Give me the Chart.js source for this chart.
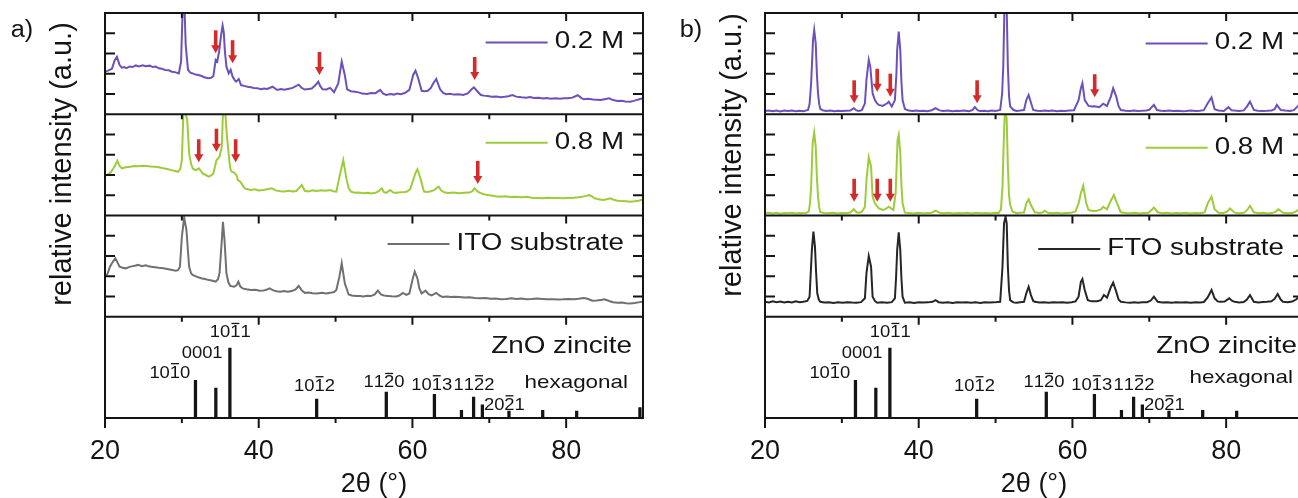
<!DOCTYPE html>
<html><head><meta charset="utf-8">
<script src="https://cdn.jsdelivr.net/npm/chart.js@4.4.1/dist/chart.umd.min.js"></script>
<style>
html,body{margin:0;padding:0;background:#fff;overflow:hidden;width:1298px;height:498px;}
#wrap{position:relative;width:1298px;height:498px;overflow:hidden;background:#fff;}
canvas{position:absolute;top:0;}
</style></head><body>
<div id="wrap">
<canvas id="ca" width="660" height="498" style="left:0px"></canvas>
<canvas id="cb" width="660" height="498" style="left:660px"></canvas>
</div>
<script>
// ---------- data: 2theta (deg) , relative intensity (subplot units 0..5) ----------
const A_02M = [[20.0,2.10],[20.3,2.14],[20.6,2.19],[20.9,2.24],[21.25,2.66],[21.55,2.84],[21.9,2.43],[22.2,2.30],[22.5,2.33],[22.8,2.28],[23.2,2.36],[23.6,2.33],[24.0,2.41],[24.4,2.36],[24.9,2.42],[25.3,2.37],[25.8,2.40],[26.2,2.33],[26.6,2.36],[27.0,2.27],[27.4,2.25],[27.8,2.19],[28.3,2.17],[28.7,2.10],[29.1,2.08],[29.6,2.02],[29.9,2.6],[30.1,5.2],[30.35,5.2],[30.5,3.42],[30.8,2.19],[31.1,2.05],[31.4,2.02],[31.8,1.96],[32.15,1.94],[32.5,1.90],[32.9,1.83],[33.4,1.78],[33.8,1.80],[34.1,1.88],[34.4,2.68],[34.6,2.60],[34.85,3.10],[35.1,3.90],[35.3,4.38],[35.45,4.05],[35.6,3.10],[35.8,2.35],[36.1,2.02],[36.35,2.19],[36.6,1.86],[36.85,1.70],[37.06,1.61],[37.4,1.74],[37.7,1.44],[38.1,1.40],[38.56,1.36],[39.0,1.33],[39.4,1.29],[39.85,1.28],[40.3,1.24],[40.7,1.27],[41.1,1.25],[41.8,1.36],[42.4,1.20],[42.9,1.24],[43.3,1.21],[43.8,1.25],[44.4,1.30],[45.2,1.46],[45.6,1.30],[46.0,1.22],[46.5,1.25],[46.9,1.27],[47.4,1.44],[47.75,1.61],[48.0,1.40],[48.3,1.23],[48.8,1.22],[49.3,1.30],[49.8,1.09],[50.35,1.52],[50.8,2.60],[51.2,1.94],[51.5,1.23],[52.0,1.14],[52.5,1.11],[53.0,1.08],[53.5,1.02],[54.1,1.00],[54.6,1.05],[55.2,1.04],[55.8,1.20],[56.2,1.02],[56.6,0.95],[57.1,1.00],[57.6,0.97],[58.0,1.02],[58.5,0.99],[59.0,1.05],[59.6,1.20],[60.1,1.94],[60.4,2.15],[60.75,1.78],[61.2,1.16],[61.6,1.14],[62.0,1.16],[62.4,1.30],[62.7,1.52],[63.1,1.74],[63.6,1.23],[64.0,1.05],[64.4,0.99],[64.9,1.01],[65.4,0.97],[66.1,0.99],[66.6,0.95],[67.2,1.03],[67.7,1.23],[68.0,1.33],[68.5,1.11],[68.9,0.95],[69.3,0.92],[69.8,0.90],[70.3,0.86],[70.9,0.88],[71.5,0.84],[72.0,0.86],[72.5,0.89],[73.0,0.95],[73.5,0.87],[74.2,0.84],[74.8,0.82],[75.3,0.85],[75.8,0.80],[76.4,0.82],[77.0,0.78],[77.5,0.80],[78.0,0.77],[78.6,0.79],[79.2,0.76],[79.7,0.79],[80.2,0.79],[80.8,0.82],[81.5,0.94],[82.0,0.80],[82.3,0.74],[82.9,0.76],[83.5,0.73],[84.0,0.72],[84.5,0.70],[85.0,0.74],[85.6,0.79],[86.1,0.70],[86.7,0.66],[87.2,0.67],[87.7,0.63],[88.3,0.62],[88.8,0.66],[89.3,0.72],[90.0,0.79]];
const A_08M = [[20.0,1.98],[20.3,2.00],[20.8,2.16],[21.3,2.45],[21.6,2.71],[21.9,2.45],[22.2,2.33],[22.7,2.38],[23.3,2.41],[23.8,2.44],[24.3,2.43],[24.9,2.46],[25.4,2.44],[26.0,2.42],[26.5,2.41],[27.0,2.38],[27.6,2.33],[28.1,2.30],[28.6,2.24],[29.1,2.20],[29.5,2.16],[29.8,2.30],[30.0,2.74],[30.2,5.1],[30.45,5.1],[30.7,4.72],[30.95,3.07],[31.2,2.55],[31.4,2.33],[31.7,2.25],[31.9,2.25],[32.2,2.33],[32.45,2.22],[32.7,2.08],[33.1,2.00],[33.5,1.92],[33.8,1.98],[34.1,2.08],[34.5,2.73],[34.9,2.90],[35.2,3.40],[35.35,5.1],[35.65,5.1],[35.85,4.0],[36.0,3.40],[36.2,2.60],[36.35,2.25],[36.5,2.16],[36.8,2.12],[37.1,2.00],[37.3,1.75],[37.6,1.67],[37.9,1.50],[38.2,1.34],[38.6,1.30],[39.0,1.26],[39.5,1.29],[40.0,1.24],[40.6,1.26],[41.1,1.30],[41.7,1.34],[42.2,1.24],[42.8,1.20],[43.3,1.18],[43.9,1.22],[44.4,1.19],[44.9,1.21],[45.6,1.51],[46.0,1.22],[46.5,1.19],[47.0,1.24],[47.6,1.21],[48.1,1.25],[48.7,1.22],[49.3,1.26],[49.7,1.20],[50.1,1.18],[50.6,2.08],[51.0,2.74],[51.4,1.84],[51.7,1.35],[52.0,1.18],[52.5,1.12],[53.0,1.14],[53.6,1.10],[54.2,1.12],[54.7,1.09],[55.2,1.12],[55.6,1.20],[56.0,1.34],[56.3,1.15],[56.6,1.12],[57.1,1.26],[57.5,1.13],[57.9,1.12],[58.5,1.15],[59.0,1.16],[59.3,1.18],[59.7,1.30],[60.1,1.75],[60.4,2.10],[60.65,2.28],[60.9,2.0],[61.1,1.75],[61.5,1.18],[61.9,1.16],[62.3,1.18],[62.8,1.25],[63.4,1.42],[63.8,1.22],[64.2,1.13],[64.7,1.11],[65.3,1.13],[66.1,1.10],[66.7,1.12],[67.4,1.13],[67.8,1.20],[68.1,1.34],[68.5,1.18],[69.1,1.07],[69.6,1.02],[70.2,0.99],[70.8,0.95],[71.5,0.93],[72.1,0.95],[72.8,0.91],[73.5,0.92],[74.2,0.90],[74.9,0.92],[75.5,0.88],[76.2,0.87],[76.9,0.85],[77.6,0.88],[78.3,0.86],[79.0,0.87],[79.6,0.85],[80.3,0.87],[81.0,0.88],[81.6,0.90],[82.1,0.93],[82.6,0.97],[83.0,1.01],[83.4,0.93],[83.7,0.85],[84.2,0.80],[84.8,0.77],[85.3,0.80],[85.7,0.85],[86.2,0.78],[86.7,0.73],[87.3,0.71],[87.8,0.70],[88.3,0.68],[88.9,0.70],[89.4,0.73],[90.0,0.79]];
const A_ITO = [[20.0,2.00],[20.3,2.10],[20.65,2.47],[21.0,2.70],[21.35,2.89],[21.6,2.70],[21.9,2.47],[22.3,2.42],[22.7,2.39],[23.1,2.45],[23.6,2.50],[24.0,2.53],[24.3,2.56],[24.8,2.50],[25.3,2.54],[25.7,2.49],[26.0,2.47],[26.5,2.45],[27.0,2.42],[27.6,2.39],[28.1,2.36],[28.6,2.32],[29.2,2.27],[29.5,2.30],[29.75,2.47],[30.0,3.95],[30.3,4.9],[30.6,4.28],[30.8,3.20],[30.95,2.47],[31.2,2.15],[31.4,2.06],[31.9,1.98],[32.5,1.90],[33.0,1.86],[33.55,1.81],[34.0,1.78],[34.4,1.73],[34.7,1.85],[34.9,2.15],[35.2,3.79],[35.35,4.69],[35.55,3.79],[35.8,2.15],[36.05,1.70],[36.3,1.52],[36.8,1.48],[37.1,1.55],[37.35,1.73],[37.6,1.50],[37.9,1.40],[38.4,1.36],[39.0,1.32],[39.6,1.33],[40.1,1.28],[40.6,1.29],[41.0,1.33],[41.4,1.40],[41.9,1.30],[42.3,1.26],[42.8,1.23],[43.3,1.27],[43.8,1.24],[44.4,1.28],[44.8,1.35],[45.2,1.52],[45.6,1.30],[46.0,1.18],[46.5,1.20],[47.0,1.16],[47.6,1.15],[48.2,1.18],[48.8,1.15],[49.3,1.18],[49.8,1.22],[50.1,1.32],[50.5,1.98],[50.8,2.64],[51.2,1.65],[51.7,1.10],[52.1,1.05],[52.7,1.03],[53.2,1.02],[53.6,1.00],[54.1,1.04],[54.6,1.02],[55.1,1.10],[55.5,1.29],[55.9,1.10],[56.3,1.05],[56.8,1.03],[57.3,1.01],[57.9,1.00],[58.3,1.05],[58.75,1.18],[59.2,1.08],[59.6,1.15],[60.0,1.81],[60.3,2.23],[60.65,1.90],[60.9,1.40],[61.2,1.15],[61.7,1.29],[62.1,1.12],[62.5,1.05],[63.1,1.18],[63.5,1.05],[63.9,0.98],[64.5,1.00],[65.0,0.97],[65.5,0.99],[66.1,0.98],[66.8,0.95],[67.4,0.96],[68.1,0.93],[68.8,0.91],[69.5,0.93],[70.2,0.89],[70.8,0.90],[71.5,0.86],[72.2,0.88],[72.9,0.91],[73.5,0.88],[74.2,0.90],[74.8,0.87],[75.5,0.88],[76.2,0.90],[76.9,0.88],[77.6,0.86],[78.3,0.87],[79.0,0.85],[79.6,0.86],[80.3,0.88],[81.0,0.87],[81.6,0.89],[82.3,0.92],[82.8,0.89],[83.4,0.79],[84.0,0.80],[84.5,0.83],[85.0,0.86],[85.6,0.78],[86.1,0.72],[86.7,0.69],[87.3,0.70],[87.8,0.67],[88.3,0.66],[88.9,0.68],[89.4,0.71],[90.0,0.74]];
const B_02M = [[20.0,0.16],[20.5,0.19],[21.0,0.15],[21.5,0.18],[22.0,0.14],[22.5,0.18],[23.0,0.16],[23.5,0.19],[24.0,0.15],[24.5,0.17],[25.0,0.15],[25.3,0.18],[25.6,0.21],[25.8,0.5],[26.0,1.53],[26.25,3.67],[26.4,4.16],[26.6,3.50],[26.75,2.0],[26.9,1.03],[27.05,0.5],[27.2,0.26],[27.6,0.18],[28.0,0.16],[28.5,0.19],[29.0,0.15],[29.5,0.17],[30.0,0.16],[30.6,0.17],[31.1,0.18],[31.56,0.30],[31.9,0.19],[32.2,0.16],[32.6,0.20],[33.0,0.54],[33.2,1.69],[33.5,2.68],[33.7,2.35],[34.0,1.03],[34.3,0.70],[34.55,0.55],[34.8,0.46],[35.3,0.41],[35.9,0.54],[36.1,0.62],[36.5,0.38],[36.9,0.70],[37.1,2.0],[37.2,3.18],[37.4,4.08],[37.6,3.18],[37.75,1.6],[37.9,0.70],[38.2,0.26],[38.7,0.18],[39.2,0.16],[39.7,0.19],[40.1,0.16],[40.6,0.17],[41.1,0.15],[41.7,0.20],[42.2,0.30],[42.7,0.19],[43.2,0.16],[43.8,0.18],[44.4,0.15],[44.9,0.17],[45.3,0.16],[45.9,0.18],[46.5,0.15],[47.0,0.20],[47.3,0.35],[47.7,0.19],[48.0,0.16],[48.5,0.17],[49.0,0.15],[49.5,0.18],[50.0,0.16],[50.6,0.21],[50.85,1.0],[51.0,2.35],[51.15,5.2],[51.45,5.2],[51.6,2.35],[51.75,0.9],[51.9,0.38],[52.3,0.22],[52.7,0.16],[53.2,0.18],[53.7,0.21],[54.0,0.70],[54.3,0.95],[54.5,0.70],[54.9,0.21],[55.4,0.17],[55.9,0.16],[56.4,0.19],[56.9,0.16],[57.4,0.18],[58.0,0.15],[58.5,0.17],[59.0,0.16],[59.6,0.19],[60.2,0.20],[60.8,0.70],[61.1,1.28],[61.3,1.53],[61.6,0.70],[62.1,0.41],[62.5,0.38],[62.9,0.39],[63.5,0.35],[64.0,0.52],[64.5,0.41],[65.0,0.87],[65.3,1.28],[65.7,0.87],[66.0,0.40],[66.3,0.21],[66.9,0.17],[67.5,0.16],[68.0,0.18],[68.5,0.16],[69.0,0.17],[69.6,0.19],[70.0,0.22],[70.3,0.35],[70.6,0.46],[71.0,0.21],[71.5,0.17],[72.0,0.16],[72.6,0.18],[73.1,0.16],[73.7,0.17],[74.3,0.15],[74.8,0.16],[75.4,0.18],[76.0,0.16],[76.6,0.17],[77.1,0.20],[77.6,0.54],[78.1,0.83],[78.5,0.25],[79.0,0.19],[79.7,0.16],[80.3,0.35],[80.7,0.20],[81.1,0.18],[81.7,0.16],[82.3,0.19],[82.7,0.38],[83.1,0.62],[83.6,0.21],[84.1,0.17],[84.7,0.16],[85.3,0.17],[85.9,0.19],[86.3,0.25],[86.6,0.46],[87.1,0.21],[87.7,0.18],[88.3,0.16],[88.8,0.20],[89.2,0.35],[89.6,0.50],[90.0,0.30]];
const B_08M = [[20.0,0.11],[20.5,0.14],[21.0,0.10],[21.5,0.13],[22.0,0.09],[22.5,0.12],[23.0,0.11],[23.5,0.14],[24.0,0.10],[24.5,0.12],[25.0,0.11],[25.4,0.13],[25.7,0.2],[25.85,0.6],[26.0,1.42],[26.2,3.56],[26.4,4.09],[26.6,3.40],[26.75,1.9],[26.9,0.93],[27.05,0.4],[27.2,0.16],[27.7,0.12],[28.2,0.11],[28.8,0.14],[29.4,0.10],[30.0,0.12],[30.6,0.11],[31.1,0.15],[31.56,0.31],[31.9,0.16],[32.2,0.14],[32.6,0.18],[33.0,0.43],[33.2,1.75],[33.5,2.87],[33.8,2.41],[34.0,0.93],[34.3,0.60],[34.8,0.35],[35.4,0.27],[35.8,0.35],[36.1,0.43],[36.7,0.27],[37.0,1.10],[37.25,3.73],[37.4,3.98],[37.6,3.10],[37.75,1.5],[37.9,0.60],[38.2,0.14],[38.7,0.12],[39.3,0.10],[39.9,0.13],[40.5,0.11],[41.1,0.12],[41.7,0.14],[42.2,0.24],[42.7,0.13],[43.3,0.11],[43.9,0.13],[44.5,0.10],[45.1,0.12],[45.7,0.11],[46.3,0.13],[46.9,0.10],[47.5,0.14],[48.1,0.11],[48.7,0.12],[49.3,0.10],[49.9,0.13],[50.4,0.12],[50.7,0.3],[50.9,1.42],[51.05,3.5],[51.2,5.1],[51.35,5.1],[51.45,4.72],[51.6,2.41],[51.75,1.0],[51.9,0.52],[52.2,0.2],[52.7,0.11],[53.2,0.13],[53.7,0.15],[54.0,0.60],[54.3,0.80],[54.6,0.52],[55.1,0.16],[55.7,0.12],[56.1,0.15],[56.4,0.24],[56.8,0.13],[57.4,0.11],[58.0,0.13],[58.6,0.10],[59.2,0.12],[59.8,0.13],[60.4,0.20],[60.8,0.60],[61.1,1.10],[61.4,1.47],[61.8,0.60],[62.1,0.27],[62.6,0.22],[63.2,0.24],[63.7,0.30],[64.0,0.43],[64.5,0.31],[65.0,0.74],[65.4,1.01],[65.8,0.60],[66.3,0.16],[66.9,0.12],[67.5,0.11],[68.1,0.13],[68.7,0.10],[69.3,0.12],[69.9,0.14],[70.3,0.27],[70.6,0.39],[71.1,0.16],[71.7,0.11],[72.3,0.13],[72.9,0.10],[73.5,0.12],[74.1,0.11],[74.8,0.13],[75.4,0.10],[76.0,0.12],[76.6,0.11],[77.2,0.15],[77.6,0.60],[78.1,0.93],[78.5,0.31],[79.0,0.14],[79.6,0.12],[80.1,0.18],[80.5,0.35],[81.1,0.14],[81.7,0.11],[82.3,0.13],[82.7,0.25],[83.1,0.48],[83.6,0.16],[84.2,0.11],[84.8,0.13],[85.4,0.10],[86.0,0.12],[86.4,0.18],[86.8,0.31],[87.4,0.13],[88.0,0.11],[88.6,0.12],[89.1,0.20],[89.6,0.35],[90.0,0.25]];
const B_FTO = [[20.0,0.74],[20.5,0.70],[21.0,0.76],[21.5,0.72],[22.0,0.75],[22.5,0.70],[23.0,0.74],[23.5,0.71],[24.0,0.76],[24.5,0.72],[25.0,0.74],[25.5,0.78],[25.8,0.99],[26.1,3.30],[26.3,4.20],[26.5,3.46],[26.65,2.2],[26.8,1.16],[27.0,0.85],[27.2,0.74],[27.7,0.70],[28.3,0.72],[28.9,0.68],[29.5,0.71],[30.1,0.69],[30.7,0.72],[31.3,0.70],[31.9,0.69],[32.5,0.72],[33.0,0.91],[33.2,2.15],[33.5,3.00],[33.8,2.47],[34.0,0.99],[34.3,0.78],[34.6,0.69],[35.2,0.71],[35.9,0.69],[36.5,0.72],[36.9,0.91],[37.05,1.9],[37.2,3.30],[37.4,4.17],[37.6,3.30],[37.75,1.9],[37.9,0.99],[38.2,0.69],[38.8,0.71],[39.4,0.68],[40.0,0.72],[40.6,0.70],[41.2,0.71],[41.8,0.74],[42.2,0.82],[42.6,0.72],[43.2,0.69],[43.8,0.72],[44.4,0.68],[45.0,0.71],[45.6,0.70],[46.2,0.72],[46.8,0.69],[47.4,0.71],[48.0,0.68],[48.6,0.72],[49.2,0.70],[49.8,0.71],[50.6,0.74],[50.9,2.47],[51.1,4.61],[51.3,4.94],[51.45,4.61],[51.6,2.47],[51.75,1.3],[51.9,0.82],[52.3,0.71],[52.7,0.69],[53.2,0.72],[53.7,0.74],[54.0,1.16],[54.3,1.48],[54.6,1.07],[54.9,0.78],[55.1,0.74],[55.7,0.70],[56.3,0.72],[56.9,0.69],[57.5,0.71],[58.1,0.70],[58.7,0.72],[59.3,0.69],[59.9,0.72],[60.4,0.76],[60.8,0.99],[61.1,1.73],[61.3,1.86],[61.6,1.32],[62.0,0.82],[62.5,0.76],[63.2,0.77],[63.7,0.82],[64.1,1.07],[64.5,0.95],[65.0,1.46],[65.3,1.69],[65.7,1.24],[66.0,0.85],[66.3,0.74],[66.9,0.71],[67.5,0.69],[68.1,0.72],[68.5,0.69],[69.1,0.71],[69.7,0.72],[70.2,0.80],[70.6,0.99],[71.1,0.74],[71.7,0.70],[72.3,0.72],[72.9,0.69],[73.5,0.71],[74.1,0.70],[74.8,0.72],[75.4,0.69],[76.0,0.71],[76.6,0.70],[77.1,0.73],[77.6,0.95],[78.1,1.32],[78.5,0.91],[78.9,0.76],[79.2,0.74],[79.8,0.75],[80.4,0.91],[80.8,0.78],[81.1,0.74],[81.7,0.71],[82.3,0.73],[82.7,0.85],[83.1,1.07],[83.6,0.74],[84.2,0.71],[84.8,0.73],[85.3,0.74],[85.9,0.76],[86.3,0.88],[86.7,1.12],[87.1,0.85],[87.4,0.74],[88.0,0.72],[88.6,0.75],[89.1,0.85],[89.5,1.00],[90.0,0.80]];

// ZnO zincite reference pattern (2theta, relative intensity %)
const STICK_THETA = [31.77, 34.42, 36.25, 47.54, 56.60, 62.86, 66.38, 67.96, 69.10, 72.56, 76.95, 81.37, 89.60];
const STICK_INT   = [54, 43, 100, 27, 37, 34, 11, 30, 19, 10, 11, 10, 15];
// hkl labels: "-" marks a barred index
const HKL_TEXT  = ['10-10', '0001', '10-11', '10-12', '11-20', '10-13', '11-22', '20-21'];
const HKL_THETA = [31.1, 35.3, 36.3, 47.25, 56.3, 62.5, 68.0, 69.3];
const HKL_LEVEL = [66, 93.5, 123.6, 47.3, 52, 48.7, 48.7, 20];
const HKL_ALIGN = ['right', 'right', 'center', 'center', 'center', 'center', 'center', 'left'];

// red arrows marking extra peaks: [2theta, tip intensity]
const ARROWS_A02 = [[34.4, 3.01], [36.6, 2.52], [47.9, 1.94], [68.1, 1.69]];
const ARROWS_A08 = [[32.2, 2.63], [34.5, 3.15], [37.0, 2.63], [68.5, 1.56]];
const ARROWS_B02 = [[31.6, 0.54], [34.6, 1.11], [36.3, 0.87], [47.6, 0.54], [62.9, 0.84]];
const ARROWS_B08 = [[31.6, 0.68], [34.6, 0.68], [36.3, 0.68]];

const X_TICKS = [20, 30, 40, 50, 60, 70, 80, 90];
const Y_TICKS = [1, 2, 3, 4];

const PURPLE = '#6c50bc', GREEN = '#9dcc3b', GRAY = '#707070', DARK = '#262626', RED = '#d42a2a', INK = '#141414';
const FONT = '"Liberation Sans", Arial, Helvetica, sans-serif';

function pts(a) { return a.map(p => ({x: p[0], y: p[1]})); }
function lineDS(label, arr, color, yId) {
  return {type: 'line', label, data: pts(arr), borderColor: color, borderWidth: 2, pointRadius: 0,
          tension: 0, fill: false, yAxisID: yId, xAxisID: 'x', order: 2};
}
function txt(ctx, s, x, y, size, align, stretch, color) {
  ctx.save(); ctx.font = size + 'px ' + FONT; ctx.fillStyle = color || INK; ctx.textBaseline = 'middle';
  ctx.translate(x, y); ctx.scale(stretch, 1); ctx.textAlign = align; ctx.fillText(s, 0, 0); ctx.restore();
}
function txtW(ctx, s, size, stretch) {
  ctx.save(); ctx.font = size + 'px ' + FONT; const w = ctx.measureText(s).width * stretch; ctx.restore(); return w;
}
function drawHkl(ctx, label, x, y, size, align, stretch) {
  ctx.save(); ctx.font = size + 'px ' + FONT; ctx.fillStyle = INK; ctx.strokeStyle = INK;
  ctx.textBaseline = 'alphabetic'; ctx.textAlign = 'left';
  const toks = [];
  for (let i = 0; i < label.length; i++) {
    if (label[i] === '-') { toks.push({c: label[i + 1], bar: true}); i++; } else toks.push({c: label[i], bar: false});
  }
  let w = 0; toks.forEach(t => { t.w = ctx.measureText(t.c).width; w += t.w; });
  const W = w * stretch;
  const x0 = align === 'right' ? x - W : (align === 'center' ? x - W / 2 : x);
  ctx.translate(x0, y + size * 0.358); ctx.scale(stretch, 1);
  let cx = 0; ctx.lineWidth = 1.3;
  toks.forEach(t => {
    ctx.fillText(t.c, cx, 0);
    if (t.bar) { const by = -size * 0.716 - 2.5; ctx.beginPath(); ctx.moveTo(cx + 1, by); ctx.lineTo(cx + t.w - 1, by); ctx.stroke(); }
    cx += t.w;
  });
  ctx.restore();
}

function decoPlugin(P) {
  return {
    id: 'deco',
    afterDraw(chart) {
      const ctx = chart.ctx, xs = chart.scales.x;
      const ys = ['r0', 'r1', 'r2', 'r3'].map(k => chart.scales[k]);
      const L = chart.chartArea.left, R = chart.chartArea.right, T = ys[0].top, B = ys[3].bottom;
      const ln = (x1, y1, x2, y2) => { ctx.beginPath(); ctx.moveTo(x1, y1); ctx.lineTo(x2, y2); ctx.stroke(); };
      ctx.save();
      ctx.strokeStyle = INK; ctx.lineWidth = 2; ctx.lineCap = 'butt';
      ys.forEach(s => ln(L - 1, s.top, R + 1, s.top));
      ln(L - 1, B, R + 1, B); ln(L, T, L, B); ln(R, T, R, B);
      ys.forEach(s => {
        X_TICKS.forEach(v => {
          if (v === 20 || v === 90) return;
          const px = xs.getPixelForValue(v); ln(px, s.top, px, s.top + (v % 20 === 0 ? 8 : 5));
        });
      });
      X_TICKS.forEach(v => {
        if (v === 90) return;
        const px = xs.getPixelForValue(v); ln(px, B, px, B + (v % 20 === 0 ? 10 : 5));
      });
      ys.slice(0, 3).forEach(s => {
        Y_TICKS.forEach(v => { const py = s.getPixelForValue(v); ln(L, py, L + 10, py); ln(R - 10, py, R, py); });
      });
      // arrows
      ctx.fillStyle = RED;
      P.arrows.forEach((list, k) => {
        list.forEach(a => {
          const x = xs.getPixelForValue(a[0]), ty = ys[k].getPixelForValue(a[1]);
          ctx.fillRect(x - 1.8, ty - 23, 3.6, 16);
          ctx.beginPath(); ctx.moveTo(x - 4.5, ty - 8); ctx.lineTo(x + 4.5, ty - 8); ctx.lineTo(x, ty); ctx.closePath(); ctx.fill();
        });
      });
      // legends
      P.legend.forEach((lg, k) => {
        const right = R - 19, cy = ys[k].top + lg.dy;
        const w = txtW(ctx, lg.text, 23.5, 1.18);
        txt(ctx, lg.text, right, cy, 23.5, 'right', 1.18, INK);
        ctx.strokeStyle = lg.color; ctx.lineWidth = 2;
        ln(right - w - 69, cy + 0.5, right - w - 7, cy + 0.5);
      });
      // reference labels
      HKL_TEXT.forEach((s, i) => {
        drawHkl(ctx, s, xs.getPixelForValue(HKL_THETA[i]), ys[3].getPixelForValue(HKL_LEVEL[i]), 16, HKL_ALIGN[i], 1.15);
      });
      txt(ctx, 'ZnO zincite', R - P.zincR, ys[3].top + P.zincDy, 23.6, 'right', 1.18, INK);
      txt(ctx, 'hexagonal', R - P.hexR, ys[3].top + P.hexDy, 19, 'right', 1.18, INK);
      // y title
      ctx.save(); ctx.translate(L - P.ytOff, P.ytY); ctx.rotate(-Math.PI / 2);
      ctx.font = '29px ' + FONT; ctx.fillStyle = INK; ctx.textAlign = 'center'; ctx.textBaseline = 'middle';
      ctx.fillText('relative intensity (a.u.)', 0, 0); ctx.restore();
      // panel letter
      txt(ctx, P.letter, P.letterX, 31, 23, 'center', 1.1, INK);
      ctx.restore();
    }
  };
}

function makePanel(id, P) {
  const datasets = P.series.map((s, k) => lineDS(s.label, s.data, s.color, 'r' + k));
  datasets.push({type: 'bar', label: 'ZnO zincite', data: STICK_THETA.map((t, i) => ({x: t, y: STICK_INT[i]})),
    backgroundColor: INK, borderWidth: 0, barThickness: 2.6, grouped: false, xAxisID: 'x', yAxisID: 'r3', order: 1});
  const yBase = {type: 'linear', position: 'left', stack: 'panel', stackWeight: 1, display: false, offset: false};
  new Chart(document.getElementById(id), {
    type: 'line',
    data: {datasets},
    options: {
      responsive: false, animation: false, events: [],
      layout: {padding: {left: 105, right: P.padR, top: 13, bottom: 0}},
      plugins: {legend: {display: false}, tooltip: {enabled: false}},
      scales: {
        x: {type: 'linear', min: 20, max: 90, position: 'bottom', offset: false,
            grid: {display: false, drawTicks: false, offset: false}, border: {display: false},
            ticks: {stepSize: 10, autoSkip: false, maxRotation: 0, padding: 17, color: INK,
                    font: {family: FONT, size: 27}, callback: v => (v % 20 === 0 && v < 90) ? String(v) : ''},
            title: {display: true, text: '2θ (°)', color: INK, font: {family: FONT, size: 27, lineHeight: 1}, padding: {top: 0, bottom: 0}},
            afterFit: s => { s.height = 80; }},
        r0: Object.assign({}, yBase, {weight: 4, min: 0, max: 5}),
        r1: Object.assign({}, yBase, {weight: 3, min: 0, max: 5}),
        r2: Object.assign({}, yBase, {weight: 2, min: 0, max: 5}),
        r3: Object.assign({}, yBase, {weight: 1, min: 0, max: 145})
      }
    },
    plugins: [decoPlugin(P)]
  });
}

makePanel('ca', {
  padR: 9, letter: 'a)', letterX: 22, ytOff: 42, ytY: 164,
  series: [{label: '0.2 M', data: A_02M, color: PURPLE}, {label: '0.8 M', data: A_08M, color: GREEN}, {label: 'ITO substrate', data: A_ITO, color: GRAY}],
  legend: [{text: '0.2 M', color: PURPLE, dy: 29}, {text: '0.8 M', color: GREEN, dy: 28}, {text: 'ITO substrate', color: GRAY, dy: 28}],
  arrows: [ARROWS_A02, ARROWS_A08, [], []],
  zincR: 11, zincDy: 30, hexR: 15, hexDy: 66
});
makePanel('cb', {
  padR: 13, letter: 'b)', letterX: 31, ytOff: 32, ytY: 155,
  series: [{label: '0.2 M', data: B_02M, color: PURPLE}, {label: '0.8 M', data: B_08M, color: GREEN}, {label: 'FTO substrate', data: B_FTO, color: DARK}],
  legend: [{text: '0.2 M', color: PURPLE, dy: 30}, {text: '0.8 M', color: GREEN, dy: 33}, {text: 'FTO substrate', color: DARK, dy: 33}],
  arrows: [ARROWS_B02, ARROWS_B08, [], []],
  zincR: 6, zincDy: 30, hexR: 10, hexDy: 61
});
</script>
</body></html>
